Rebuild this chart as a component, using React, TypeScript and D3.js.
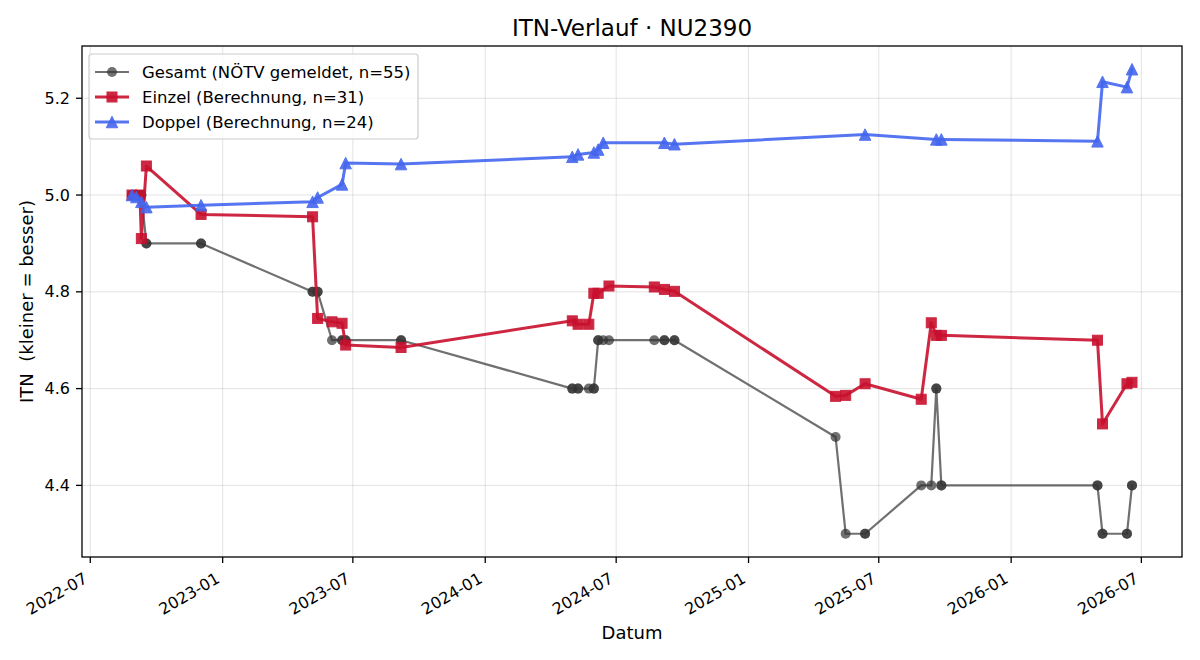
import React from "react";
import * as d3 from "d3";

// Gesamt-ITN as reported by the NÖTV (repeated entries for the same date are separate reports)
const gesamtDates = [
  "2022-08-28", "2022-08-28", "2022-09-03", "2022-09-08", "2022-09-10", "2022-09-10",
  "2022-09-17", "2022-09-17", "2022-12-02", "2022-12-02", "2023-05-06", "2023-05-06",
  "2023-05-13", "2023-05-13", "2023-06-02", "2023-06-16", "2023-06-16", "2023-06-21",
  "2023-06-21", "2023-09-06", "2023-09-06", "2024-05-01", "2024-05-01", "2024-05-09",
  "2024-05-09", "2024-05-24", "2024-05-31", "2024-05-31", "2024-06-06", "2024-06-06",
  "2024-06-13", "2024-06-21", "2024-08-23", "2024-09-06", "2024-09-06", "2024-09-20",
  "2024-09-20", "2025-05-02", "2025-05-16", "2025-06-12", "2025-06-12", "2025-08-29",
  "2025-09-12", "2025-09-19", "2025-09-19", "2025-09-26", "2025-09-26", "2026-05-01",
  "2026-05-01", "2026-05-08", "2026-05-08", "2026-06-11", "2026-06-11", "2026-06-18",
  "2026-06-18",
];
const gesamtValues = [
  5.0, 5.0, 5.0, 5.0, 5.0, 5.0,
  4.9, 4.9, 4.9, 4.9, 4.8, 4.8,
  4.8, 4.8, 4.7, 4.7, 4.7, 4.7,
  4.7, 4.7, 4.7, 4.6, 4.6, 4.6,
  4.6, 4.6, 4.6, 4.6, 4.7, 4.7,
  4.7, 4.7, 4.7, 4.7, 4.7, 4.7,
  4.7, 4.5, 4.3, 4.3, 4.3, 4.4,
  4.4, 4.6, 4.6, 4.4, 4.4, 4.4,
  4.4, 4.3, 4.3, 4.3, 4.3, 4.4,
  4.4,
];

// Einzel-ITN (own calculation)
const einzelDates = [
  "2022-08-28", "2022-09-08", "2022-09-10", "2022-09-17", "2022-12-02", "2023-05-06",
  "2023-05-13", "2023-06-02", "2023-06-16", "2023-06-21", "2023-09-06", "2024-05-01",
  "2024-05-09", "2024-05-24", "2024-05-31", "2024-06-06", "2024-06-21", "2024-08-23",
  "2024-09-06", "2024-09-20", "2025-05-02", "2025-05-16", "2025-06-12", "2025-08-29",
  "2025-09-12", "2025-09-19", "2025-09-26", "2026-05-01", "2026-05-08", "2026-06-11",
  "2026-06-18",
];
const einzelValues = [
  5.0, 5.0, 4.91, 5.06, 4.96, 4.955,
  4.745, 4.738, 4.735, 4.69, 4.685, 4.74,
  4.733, 4.733, 4.797, 4.797, 4.812, 4.81,
  4.805, 4.801, 4.584, 4.586, 4.61, 4.578,
  4.736, 4.71, 4.71, 4.7, 4.527, 4.61,
  4.613,
];

// Doppel-ITN (own calculation)
const doppelDates = [
  "2022-08-28", "2022-09-03", "2022-09-10", "2022-09-17", "2022-12-02", "2023-05-06",
  "2023-05-13", "2023-06-16", "2023-06-21", "2023-09-06", "2024-05-01", "2024-05-09",
  "2024-05-31", "2024-06-06", "2024-06-13", "2024-09-06", "2024-09-20", "2025-06-12",
  "2025-09-19", "2025-09-26", "2026-05-01", "2026-05-08", "2026-06-11", "2026-06-18",
];
const doppelValues = [
  5.0, 4.996, 4.986, 4.975, 4.979, 4.986,
  4.995, 5.022, 5.066, 5.064, 5.079, 5.084,
  5.088, 5.094, 5.108, 5.108, 5.105, 5.125,
  5.115, 5.115, 5.111, 5.234, 5.223, 5.26,
];

const yTicks = [4.4, 4.6, 4.8, 5.0, 5.2];
const seriesLabels = [
  "Gesamt (NÖTV gemeldet, n=55)",
  "Einzel (Berechnung, n=31)",
  "Doppel (Berechnung, n=24)",
];

const W = 1200;
const H = 660;
const M = { left: 82, right: 1182, top: 46, bottom: 557 };
const FONT = "DejaVu Sans, sans-serif";
const TICK_FS = 16;
const LABEL_FS = 18;

const parse = d3.utcParse("%Y-%m-%d");

type Pt = { d: Date; v: number };
const zip = (ds: string[], vs: number[]): Pt[] =>
  ds.map((s, i) => ({ d: parse(s) as Date, v: vs[i] }));

const gesamt = zip(gesamtDates, gesamtValues);
const einzel = zip(einzelDates, einzelValues);
const doppel = zip(doppelDates, doppelValues);
const all = [...gesamt, ...einzel, ...doppel];

// 5 % padding on both axes
const [t0, t1] = d3.extent(all, (p) => +p.d) as [number, number];
const tPad = (t1 - t0) * 0.05;
const x = d3
  .scaleUtc()
  .domain([new Date(t0 - tPad), new Date(t1 + tPad)])
  .range([M.left, M.right]);

const [v0, v1] = d3.extent(all, (p) => p.v) as [number, number];
const vPad = (v1 - v0) * 0.05;
const y = d3.scaleLinear().domain([v0 - vPad, v1 + vPad]).range([M.bottom, M.top]);

const xTicks = x.ticks(d3.utcMonth.every(6) as any);
const fmtX = d3.utcFormat("%Y-%m");
const fmtY = d3.format(".1f");

const line = d3
  .line<Pt>()
  .x((p) => x(p.d))
  .y((p) => y(p.v));

type Style = { color: string; alpha: number; width: number; marker: "o" | "s" | "^"; size: number };
const styles: Style[] = [
  { color: "#333333", alpha: 0.7, width: 2.2, marker: "o", size: 10 },
  { color: "#c8102e", alpha: 0.9, width: 3, marker: "s", size: 11 },
  { color: "#4466ee", alpha: 0.9, width: 3, marker: "^", size: 11.5 },
];

function Marker({ cx, cy, s }: { cx: number; cy: number; s: Style }) {
  const h = s.size / 2;
  if (s.marker === "o") {
    return <circle cx={cx} cy={cy} r={h} fill={s.color} opacity={s.alpha} />;
  }
  if (s.marker === "s") {
    return (
      <rect
        x={cx - h + 0.5}
        y={cy - h + 0.5}
        width={s.size - 1}
        height={s.size - 1}
        fill={s.color}
        stroke={s.color}
        strokeWidth={1}
        opacity={s.alpha}
      />
    );
  }
  return (
    <path
      d={`M${cx},${cy - h}L${cx + h},${cy + h}L${cx - h},${cy + h}Z`}
      fill={s.color}
      stroke={s.color}
      strokeWidth={1}
      strokeLinejoin="miter"
      opacity={s.alpha}
    />
  );
}

function Series({ data, s }: { data: Pt[]; s: Style }) {
  return (
    <g>
      <path
        d={line(data) ?? ""}
        fill="none"
        stroke={s.color}
        strokeOpacity={s.alpha}
        strokeWidth={s.width}
        strokeLinejoin="round"
        strokeLinecap="round"
      />
      {data.map((p, i) => (
        <Marker key={i} cx={x(p.d)} cy={y(p.v)} s={s} />
      ))}
    </g>
  );
}

export default function App() {
  const legendX = 89;
  const legendY = 54;
  const rowGap = 25;
  return (
    <svg
      width={W}
      height={H}
      viewBox={`0 0 ${W} ${H}`}
      style={{ position: "absolute", left: 0, top: 0, display: "block", background: "#fff" }}
      fontFamily={FONT}
    >
      <rect x={0} y={0} width={W} height={H} fill="#fff" />

      {/* grid */}
      <g stroke="#b0b0b0" strokeOpacity={0.35} strokeWidth={1}>
        {xTicks.map((t, i) => (
          <line key={`gx${i}`} x1={x(t)} x2={x(t)} y1={M.top} y2={M.bottom} />
        ))}
        {yTicks.map((t, i) => (
          <line key={`gy${i}`} x1={M.left} x2={M.right} y1={y(t)} y2={y(t)} />
        ))}
      </g>

      <defs>
        <clipPath id="plot-area">
          <rect x={M.left} y={M.top} width={M.right - M.left} height={M.bottom - M.top} />
        </clipPath>
      </defs>

      <g clipPath="url(#plot-area)">
        <Series data={gesamt} s={styles[0]} />
        <Series data={einzel} s={styles[1]} />
        <Series data={doppel} s={styles[2]} />
      </g>

      {/* frame */}
      <rect
        x={M.left}
        y={M.top}
        width={M.right - M.left}
        height={M.bottom - M.top}
        fill="none"
        stroke="#000"
        strokeWidth={1.3}
      />

      {/* x axis */}
      <g>
        {xTicks.map((t, i) => (
          <g key={`tx${i}`}>
            <line x1={x(t)} x2={x(t)} y1={M.bottom} y2={M.bottom + 6} stroke="#000" strokeWidth={1.3} />
            <text
              transform={`translate(${x(t) - 4.5},${M.bottom + 20}) rotate(-30)`}
              textAnchor="end"
              dominantBaseline="central"
              fontSize={TICK_FS}
              fill="#000"
            >
              {fmtX(t)}
            </text>
          </g>
        ))}
      </g>

      {/* y axis */}
      <g>
        {yTicks.map((t, i) => (
          <g key={`ty${i}`}>
            <line x1={M.left - 6} x2={M.left} y1={y(t)} y2={y(t)} stroke="#000" strokeWidth={1.3} />
            <text
              x={M.left - 12}
              y={y(t)}
              textAnchor="end"
              dominantBaseline="central"
              fontSize={TICK_FS}
              fill="#000"
            >
              {fmtY(t)}
            </text>
          </g>
        ))}
      </g>

      {/* labels */}
      <text x={(M.left + M.right) / 2} y={639} textAnchor="middle" fontSize={LABEL_FS} fill="#000">
        Datum
      </text>
      <text
        transform={`translate(33,${(M.top + M.bottom) / 2}) rotate(-90)`}
        textAnchor="middle"
        fontSize={LABEL_FS}
        fill="#000"
        style={{ whiteSpace: "pre" }}
      >
        {"ITN  (kleiner = besser)"}
      </text>
      <text x={(M.left + M.right) / 2} y={36} textAnchor="middle" fontSize={23} fill="#000">
        ITN-Verlauf · NU2390
      </text>

      {/* legend */}
      <g>
        <rect
          x={legendX}
          y={legendY}
          width={329}
          height={85}
          rx={3}
          fill="#fff"
          fillOpacity={0.8}
          stroke="#cccccc"
          strokeWidth={1.2}
        />
        {seriesLabels.map((label, i) => {
          const cy = legendY + 18 + i * rowGap;
          const s = styles[i];
          return (
            <g key={label}>
              <line
                x1={95}
                x2={129}
                y1={cy}
                y2={cy}
                stroke={s.color}
                strokeOpacity={s.alpha}
                strokeWidth={s.width}
              />
              <Marker cx={112} cy={cy} s={s} />
              <text x={142} y={cy} dominantBaseline="central" fontSize={16.5} fill="#000">
                {label}
              </text>
            </g>
          );
        })}
      </g>
    </svg>
  );
}
